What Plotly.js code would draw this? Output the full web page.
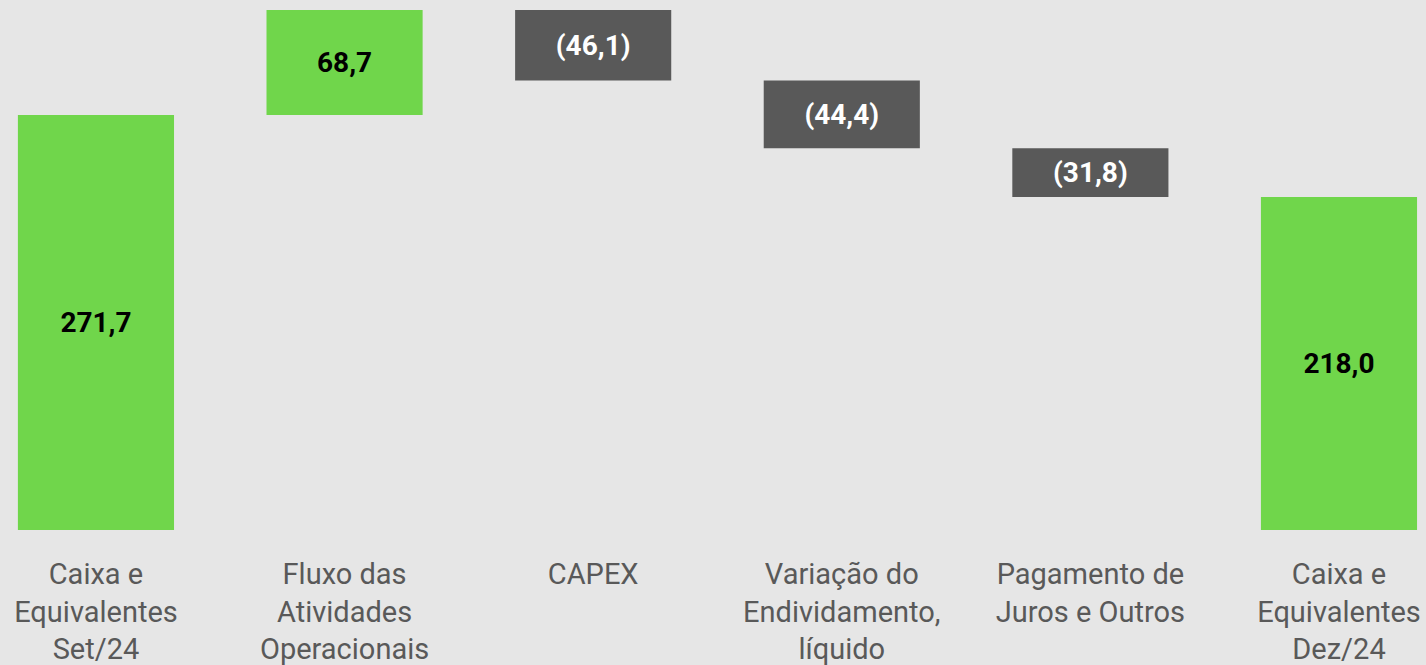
<!DOCTYPE html>
<html>
<head>
<meta charset="utf-8">
<script src="https://cdn.plot.ly/plotly-3.0.1.min.js"></script>
<style>html,body{margin:0;padding:0;background:#e6e6e6;}#chart{width:1426px;height:665px;}</style>
</head>
<body>
<div id="chart"></div>
<script>
const categories = [
  "Caixa e<br>Equivalentes<br>Set/24",
  "Fluxo das<br>Atividades<br>Operacionais",
  "CAPEX",
  "Variação do<br>Endividamento,<br>líquido",
  "Pagamento de<br>Juros e Outros",
  "Caixa e<br>Equivalentes<br>Dez/24"
];
const values = [271.7, 68.7, -46.1, -44.4, -31.8, 218.0];
const measures = ["absolute", "relative", "relative", "relative", "relative", "absolute"];

const fmt = v => {
  const s = Math.abs(v).toFixed(1).replace('.', ',');
  return v < 0 ? '(' + s + ')' : s;
};
const labels = values.map(fmt);
const GREEN = '#70d64b', GRAY = '#595959';
const textColors = values.map(v => v < 0 ? '#ffffff' : '#000000');
const xs = categories.map((c, i) => i);

const trace = {
  type: 'waterfall',
  x: xs,
  y: values,
  measure: measures,
  text: labels,
  textposition: 'inside',
  insidetextanchor: 'middle',
  textangle: 0,
  textfont: {family: 'Roboto, sans-serif', size: 28, color: textColors, weight: 'bold'},
  increasing: {marker: {color: GREEN}},
  decreasing: {marker: {color: GRAY}},
  totals: {marker: {color: GREEN}},
  connector: {visible: false},
  hoverinfo: 'none'
};

const layout = {
  width: 1426, height: 665,
  margin: {l: 0, r: 0, t: 0, b: 135, pad: 0},
  paper_bgcolor: '#e6e6e6',
  plot_bgcolor: '#e6e6e6',
  showlegend: false,
  waterfallgap: 0.372,
  uniformtext: {mode: false},
  xaxis: {
    range: [-0.386, 5.35],
    tickmode: 'array',
    tickvals: xs,
    ticktext: categories,
    showgrid: false, zeroline: false, showline: false, ticks: '',
    ticklabelstandoff: 24,
    tickfont: {family: 'Roboto, sans-serif', size: 29, color: '#595959'},
    fixedrange: true
  },
  yaxis: {
    range: [0, 347],
    visible: false,
    showgrid: false, zeroline: false,
    fixedrange: true
  }
};

Plotly.newPlot('chart', [trace], layout, {displayModeBar: false, staticPlot: true});
</script>
</body>
</html>
